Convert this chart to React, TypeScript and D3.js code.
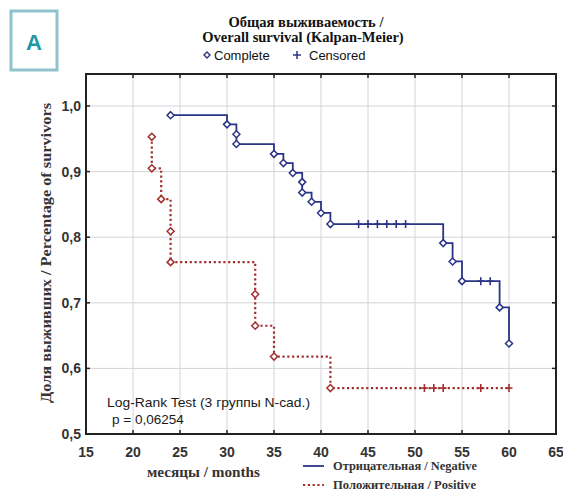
import * as d3 from "d3";

// Negative group: event times (months) and survival after each event
const negTimes = [24, 30, 31, 31, 35, 36, 37, 38, 38, 39, 40, 41, 53, 54, 55, 59, 60];
const negSurv = [0.986, 0.972, 0.957, 0.942, 0.927, 0.913, 0.898, 0.884, 0.868, 0.854, 0.837, 0.82, 0.791, 0.763, 0.733, 0.693, 0.638];
const negCensored = [44, 45, 46, 47, 48, 49, 57, 58];

// Positive group
const posTimes = [22, 22, 23, 24, 24, 33, 33, 35, 41];
const posSurv = [0.953, 0.905, 0.858, 0.809, 0.762, 0.713, 0.665, 0.618, 0.57];
const posCensored = [51, 52, 53, 57, 60];

const xTicks = [15, 20, 25, 30, 35, 40, 45, 50, 55, 60, 65];
const yTicks = [0.5, 0.6, 0.7, 0.8, 0.9, 1.0];

const W = 563;
const H = 491;
const m = { left: 86, right: 556, top: 74, bottom: 434 };

const x = d3.scaleLinear().domain([15, 65]).range([m.left, m.right]);
const y = d3.scaleLinear().domain([0.5, 1.0]).range([m.bottom, 106]);

const fmt = (v: number) => d3.format(".1f")(v).replace(".", ",");

// level of the curve at time t
function levelAt(times: number[], surv: number[], t: number) {
  let s = surv[0];
  times.forEach((tt, i) => {
    if (tt <= t) s = surv[i];
  });
  return s;
}

function stepPath(times: number[], surv: number[], censored: number[]) {
  const pts: [number, number][] = [[times[0], surv[0]]];
  for (let i = 1; i < times.length; i++) {
    pts.push([times[i], surv[i - 1]]);
    pts.push([times[i], surv[i]]);
  }
  const lastT = Math.max(times[times.length - 1], ...censored);
  if (lastT > times[times.length - 1]) pts.push([lastT, surv[surv.length - 1]]);
  return d3.line().x((d) => x(d[0])).y((d) => y(d[1]))(pts) || "";
}

const NEG = "#2b3486";
const POS = "#a0302e";

function Curve({ times, surv, censored, color, dash }: any) {
  return (
    <g>
      <path d={stepPath(times, surv, censored)} fill="none" stroke={color} strokeWidth={dash ? 2.2 : 1.8} strokeDasharray={dash} />
      {censored.map((t: number, i: number) => {
        const cx = x(t);
        const cy = y(levelAt(times, surv, t));
        return (
          <g key={"c" + i} stroke={color} strokeWidth={1.6}>
            <line x1={cx} x2={cx} y1={cy - 4} y2={cy + 4} />
            <line x1={cx - 3.5} x2={cx + 3.5} y1={cy} y2={cy} />
          </g>
        );
      })}
      {times.map((t: number, i: number) => {
        const cx = x(t);
        const cy = y(surv[i]);
        return (
          <path
            key={"m" + i}
            d={`M${cx},${cy - 3.5}L${cx + 3.5},${cy}L${cx},${cy + 3.5}L${cx - 3.5},${cy}Z`}
            fill="#fff"
            stroke={color}
            strokeWidth={1.5}
          />
        );
      })}
    </g>
  );
}

export default function App() {
  const serif = "'Liberation Serif', 'Times New Roman', serif";
  const sans = "'Liberation Sans', Arial, sans-serif";
  return (
    <svg width={W} height={H} style={{ position: "absolute", left: 0, top: 0, background: "#fff" }}>
      {/* panel label */}
      <rect x={11} y={11} width={46} height={59} fill="#fff" stroke="#8fc4cc" strokeWidth={3} />
      <text x={34} y={50} textAnchor="middle" fontFamily={sans} fontWeight="bold" fontSize={22} fill="#1b97a6">A</text>

      {/* title */}
      <g fontFamily={serif} fontWeight="bold" fontSize={14.5} fill="#111" textAnchor="middle">
        <text x={306} y={27}>Общая выживаемость /</text>
        <text x={303} y={42}>Overall survival (Kalpan-Meier)</text>
      </g>
      <g fontFamily={sans} fontSize={13} fill="#111">
        <path d="M207,52L210,55L207,58L204,55Z" fill="#fff" stroke={NEG} strokeWidth={1.4} />
        <text x={214} y={60}>Complete</text>
        <g stroke={NEG} strokeWidth={1.5}>
          <line x1={297} x2={297} y1={51} y2={59} />
          <line x1={293} x2={301} y1={55} y2={55} />
        </g>
        <text x={309} y={60}>Censored</text>
      </g>

      {/* grid */}
      <g stroke="#d4d4d8" strokeWidth={1}>
        {xTicks.slice(1, -1).map((t) => (
          <line key={t} x1={x(t)} x2={x(t)} y1={m.top} y2={m.bottom} />
        ))}
        {yTicks.slice(1).map((t) => (
          <line key={t} x1={m.left} x2={m.right} y1={y(t)} y2={y(t)} />
        ))}
      </g>

      {/* tick marks inside */}
      <g stroke="#222" strokeWidth={1.5}>
        {xTicks.slice(1, -1).map((t) => (
          <g key={t}>
            <line x1={x(t)} x2={x(t)} y1={m.bottom} y2={m.bottom - 4} />
            <line x1={x(t)} x2={x(t)} y1={m.top} y2={m.top + 4} />
          </g>
        ))}
        {yTicks.slice(1).map((t) => (
          <g key={t}>
            <line x1={m.left} x2={m.left + 4} y1={y(t)} y2={y(t)} />
            <line x1={m.right} x2={m.right - 4} y1={y(t)} y2={y(t)} />
          </g>
        ))}
      </g>

      <Curve times={posTimes} surv={posSurv} censored={posCensored} color={POS} dash="2.2,2.6" />
      <Curve times={negTimes} surv={negSurv} censored={negCensored} color={NEG} />

      {/* frame */}
      <rect x={m.left} y={m.top} width={m.right - m.left} height={m.bottom - m.top} fill="none" stroke="#222" strokeWidth={2} />

      {/* tick labels */}
      <g fontFamily={sans} fontWeight="bold" fontSize={14} fill="#333">
        {xTicks.map((t) => (
          <text key={t} x={x(t)} y={457} textAnchor="middle">{t}</text>
        ))}
        {yTicks.map((t) => (
          <text key={t} x={81} y={y(t) + 5} textAnchor="end">{fmt(t)}</text>
        ))}
      </g>

      {/* axis titles */}
      <text x={147} y={477} textLength={113} lengthAdjust="spacingAndGlyphs" fontFamily={serif} fontWeight="bold" fontSize={15} fill="#333">месяцы / months</text>
      <text transform="translate(51,253) rotate(-90)" x={-150} y={0} textLength={300} lengthAdjust="spacingAndGlyphs" fontFamily={serif} fontWeight="bold" fontSize={14} fill="#333">
        Доля выживших / Percentage of survivors
      </text>

      {/* log-rank annotation */}
      <g fontFamily={sans} fontSize={13.5} fill="#1a1a1a">
        <text x={107} y={407} textLength={203} lengthAdjust="spacingAndGlyphs">Log-Rank Test (3 группы N-cad.)</text>
        <text x={112} y={424}>p = 0,06254</text>
      </g>

      {/* group legend */}
      <g fontFamily={serif} fontWeight="bold" fontSize={12.5} fill="#333">
        <line x1={303} x2={324} y1={466} y2={466} stroke={NEG} strokeWidth={1.8} />
        <text x={333} y={470} textLength={144} lengthAdjust="spacingAndGlyphs">Отрицательная / Negative</text>
        <line x1={303} x2={324} y1={485} y2={485} stroke={POS} strokeWidth={2} strokeDasharray="2.2,2.6" />
        <text x={333} y={489} textLength={143} lengthAdjust="spacingAndGlyphs">Положительная / Positive</text>
      </g>
    </svg>
  );
}
